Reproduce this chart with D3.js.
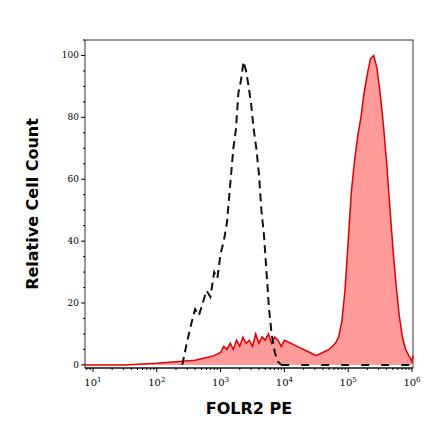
<!DOCTYPE html>
<html><head><script src="https://cdn.jsdelivr.net/npm/d3@7"></script>
<style>body{margin:0;background:#fff}</style></head><body>
<svg id="c" width="440" height="441"></svg>
<script>
// dashed (isotype) histogram: [log10 intensity, count]
const isoLog = [2.40,2.48,2.55,2.60,2.66,2.72,2.78,2.84,2.90,2.95,3.00,3.05,3.10,3.15,3.20,3.24,3.28,3.32,3.36,3.40,3.44,3.48,3.52,3.56,3.60,3.64,3.68,3.72,3.76,3.80,3.85,3.90,3.95];
const isoVal = [0,8,14,18,16,20,24,22,30,28,36,40,46,58,70,76,88,92,98,95,90,84,76,70,62,50,42,30,18,10,4,1,0];
// filled (FOLR2 PE) histogram
const folLog = [0.87,1.5,2.0,2.3,2.6,2.8,2.9,3.0,3.05,3.1,3.15,3.2,3.25,3.3,3.35,3.4,3.45,3.5,3.55,3.6,3.65,3.7,3.75,3.8,3.85,3.9,3.95,4.0,4.1,4.2,4.3,4.4,4.5,4.6,4.7,4.8,4.85,4.9,4.95,5.0,5.05,5.1,5.15,5.2,5.25,5.3,5.35,5.4,5.45,5.5,5.55,5.6,5.65,5.7,5.75,5.8,5.85,5.9,5.95,5.98,6.0,6.02];
const folVal = [0,0,0.5,1,1.5,2.5,3,4,6,5,7,5,8,6,9,7,8,6,10,7,9,8,10,7,9,8,6,8,7,6,5,4,3,4,5,7,9,14,24,40,56,66,74,80,88,94,99,100,96,88,78,66,52,38,26,16,9,5,3,2,1,3];
const xTicks = [1,2,3,4,5,6];
const yTicks = [0,20,40,60,80,100];

const svg = d3.select("#c");
const L=85,T=40,R=413,B=368;
const x = d3.scaleLinear().domain([0.875,6.016]).range([L,R]);
const y = d3.scaleLinear().domain([-1,105]).range([B,T]);
svg.append("rect").attr("x",L).attr("y",T).attr("width",R-L).attr("height",B-T).attr("fill","none").attr("stroke","#000").attr("stroke-width",0.8);
const fol = folLog.map((d,i)=>[d,folVal[i]]);
svg.append("path").datum(fol).attr("d",d3.area().x(d=>x(d[0])).y0(y(0)).y1(d=>y(d[1])))
  .attr("fill","#ff9a9a");
svg.append("path").datum(fol).attr("d",d3.line().x(d=>x(d[0])).y(d=>y(d[1])))
  .attr("fill","none").attr("stroke","#e00000").attr("stroke-width",1.5);
const iso = isoLog.map((d,i)=>[d,isoVal[i]]);
svg.append("path").datum(iso).attr("d",d3.line().x(d=>x(d[0])).y(d=>y(d[1])))
  .attr("fill","none").attr("stroke","#111").attr("stroke-width",2).attr("stroke-dasharray","8,5");
svg.append("line").attr("x1",x(3.95)).attr("x2",R).attr("y1",y(0)).attr("y2",y(0)).attr("stroke","#111").attr("stroke-width",2).attr("stroke-dasharray","8,12");
// x axis
const ga = svg.append("g").attr("transform",`translate(0,${B})`);
const minor=[];
for(let e=0;e<7;e++)for(let m=1;m<10;m++){const v=e+Math.log10(m); if(v>=0.875&&v<=6.016) minor.push(v);}
ga.selectAll("line.m").data(minor).join("line").attr("x1",d=>x(d)).attr("x2",d=>x(d)).attr("y1",0).attr("y2",d=>Number.isInteger(d)?4:2).attr("stroke","#000");
ga.append("line").attr("x1",L).attr("x2",R).attr("stroke","#000");
const tx = ga.selectAll("text").data(xTicks).join("text").attr("x",d=>x(d)).attr("y",18)
  .attr("text-anchor","middle").attr("font-family","DejaVu Serif").attr("font-size",10);
tx.append("tspan").text("10");
tx.append("tspan").attr("dy",-4).attr("font-size",7).text(d=>d);
// y axis
const gy = svg.append("g");
const yMinor=d3.range(0,106,5);
gy.selectAll("line").data(yMinor).join("line").attr("x1",L).attr("x2",d=>L-(d%20===0?4:2)).attr("y1",d=>y(d)).attr("y2",d=>y(d)).attr("stroke","#000");
gy.selectAll("text").data(yTicks).join("text").attr("x",L-6).attr("y",d=>y(d)+3).attr("text-anchor","end")
  .attr("font-family","DejaVu Serif").attr("font-size",9).text(d=>d);
svg.append("text").attr("x",(L+R)/2).attr("y",414).attr("text-anchor","middle").attr("font-family","DejaVu Sans").attr("font-weight","bold").attr("font-size",16).text("FOLR2 PE");
svg.append("text").attr("transform",`translate(38,${(T+B)/2}) rotate(-90)`).attr("text-anchor","middle").attr("font-family","DejaVu Sans").attr("font-weight","bold").attr("font-size",16).text("Relative Cell Count");
</script></body></html>
